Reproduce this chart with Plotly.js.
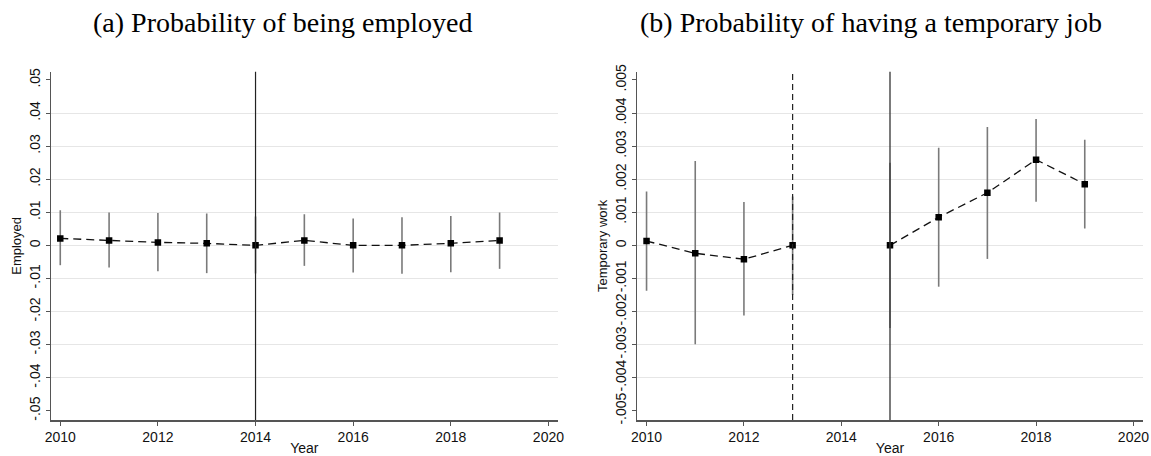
<!DOCTYPE html>
<html>
<head>
<meta charset="utf-8">
<script src="https://cdn.plot.ly/plotly-3.0.1.min.js"></script>
<style>html,body{margin:0;padding:0;background:#fff;}#chart{width:1151px;height:456px;}</style>
</head>
<body>
<div id="chart"></div>
<script>
// ---- Data ----
const yearsA = [2010, 2011, 2012, 2013, 2014, 2015, 2016, 2017, 2018, 2019];
const empCoef = [0.0021, 0.0015, 0.0009, 0.0006, 0.0000, 0.0015, 0.0000, 0.0000, 0.0006, 0.0015];
const empHi   = [0.0106, 0.0099, 0.0098, 0.0096, 0.0087, 0.0094, 0.0081, 0.0085, 0.0089, 0.0099];
const empLo   = [-0.0060, -0.0067, -0.0078, -0.0084, -0.0085, -0.0062, -0.0082, -0.0086, -0.0081, -0.0071];
const empRefSolid = [2014];

const yearsB = [2010, 2011, 2012, 2013, 2014, 2015, 2016, 2017, 2018, 2019];
const tempCoef = [0.00013, -0.00024, -0.00042, 0.00000, null, 0.00000, 0.00085, 0.00159, 0.00259, 0.00185];
const tempHi   = [0.00163, 0.00255, 0.00131, 0.00148, null, 0.00250, 0.00295, 0.00358, 0.00382, 0.00319];
const tempLo   = [-0.00137, -0.00299, -0.00212, -0.00150, null, -0.00250, -0.00125, -0.00041, 0.00132, 0.00051];
const tempRefDashed = [2013];
const tempRefSolid = [2015];

const xTickVals = [2010, 2012, 2014, 2016, 2018, 2020];
const empTickVals = [-0.05, -0.04, -0.03, -0.02, -0.01, 0, 0.01, 0.02, 0.03, 0.04, 0.05];
const empTickText = ['-.05', '-.04', '-.03', '-.02', '-.01', '0', '.01', '.02', '.03', '.04', '.05'];
const tempTickVals = [-0.005, -0.004, -0.003, -0.002, -0.001, 0, 0.001, 0.002, 0.003, 0.004, 0.005];
const tempTickText = ['-.005', '-.004', '-.003', '-.002', '-.001', '0', '.001', '.002', '.003', '.004', '.005'];

const titleA = '(a) Probability of being employed';
const titleB = '(b) Probability of having a temporary job';

// ---- Build ----
function errs(c, hi, lo) {
  return {
    plus: c.map((v, i) => v === null ? null : hi[i] - v),
    minus: c.map((v, i) => v === null ? null : v - lo[i])
  };
}
const eA = errs(empCoef, empHi, empLo);
const eB = errs(tempCoef, tempHi, tempLo);

const ciStyle = {color: '#7a7a7a', thickness: 1.6, width: 0};
const lineStyle = {color: '#111', width: 1.3, dash: '8px,5px'};
const markerStyle = {symbol: 'square', size: 6.5, color: '#000'};

const traces = [
  {x: yearsA, y: empCoef, xaxis: 'x', yaxis: 'y', type: 'scatter', mode: 'lines+markers',
   line: lineStyle, marker: markerStyle,
   error_y: Object.assign({type: 'data', symmetric: false, array: eA.plus, arrayminus: eA.minus}, ciStyle),
   showlegend: false, hoverinfo: 'x+y'},
  {x: yearsB, y: tempCoef, xaxis: 'x2', yaxis: 'y2', type: 'scatter', mode: 'lines+markers',
   connectgaps: false, line: lineStyle, marker: markerStyle,
   error_y: Object.assign({type: 'data', symmetric: false, array: eB.plus, arrayminus: eB.minus}, ciStyle),
   showlegend: false, hoverinfo: 'x+y'}
];

const shapes = [];
empRefSolid.forEach(x => shapes.push({type: 'line', xref: 'x', yref: 'y domain', x0: x, x1: x, y0: 0, y1: 1,
  line: {color: '#222', width: 1.2}, layer: 'above'}));
tempRefDashed.forEach(x => shapes.push({type: 'line', xref: 'x2', yref: 'y2 domain', x0: x, x1: x, y0: 0, y1: 1,
  line: {color: '#222', width: 1.2, dash: '6px,4px'}, layer: 'above'}));
tempRefSolid.forEach(x => shapes.push({type: 'line', xref: 'x2', yref: 'y2 domain', x0: x, x1: x, y0: 0, y1: 1,
  line: {color: '#333', width: 1.3}, layer: 'above'}));

const tickFont = {family: 'Liberation Sans, Arial, sans-serif', size: 14, color: '#111'};
const xTitleFont = {family: 'Liberation Sans, Arial, sans-serif', size: 14, color: '#111'};
const yTitleFont = {family: 'Liberation Sans, Arial, sans-serif', size: 13, color: '#111'};

function xAxis(domain, anchor) {
  return {
    domain: domain, anchor: anchor, range: [2009.81, 2020.19],
    tickmode: 'array', tickvals: xTickVals, ticks: 'outside', ticklen: 4, tickwidth: 1, tickcolor: '#555',
    showgrid: false, zeroline: false, showline: true, linecolor: '#555', linewidth: 1.5,
    tickfont: tickFont, title: {text: 'Year', font: xTitleFont, standoff: 0}, automargin: false
  };
}
function yAxis(domain, anchor, range, vals, text, title, gridvals) {
  return {
    domain: domain, anchor: anchor, range: range,
    tickmode: 'array', tickvals: vals, ticktext: text, tickangle: -90,
    ticks: 'outside', ticklen: 4, tickwidth: 1, tickcolor: '#555',
    showgrid: false, zeroline: false, showline: true, linecolor: '#555', linewidth: 1.5,
    minor: {tickmode: 'array', tickvals: gridvals, showgrid: true, gridcolor: '#e6e6e6', gridwidth: 1, ticks: ''},
    tickfont: tickFont, title: {text: title, font: yTitleFont, standoff: 2}, automargin: false
  };
}

const yDom = [36 / 456, (456 - 71.7) / 456];
const titleFont = {family: 'Liberation Serif, Times New Roman, serif', size: 28, color: '#000'};
const layout = {
  width: 1151, height: 456,
  margin: {l: 0, r: 0, t: 0, b: 0},
  paper_bgcolor: '#fff', plot_bgcolor: '#fff',
  showlegend: false,
  xaxis: xAxis([51 / 1151, 557.7 / 1151], 'y'),
  yaxis: yAxis(yDom, 'x', [-0.0528, 0.0525], empTickVals, empTickText, 'Employed', empTickVals.slice(1, -1)),
  xaxis2: xAxis([637.3 / 1151, 1142.7 / 1151], 'y2'),
  yaxis2: yAxis(yDom, 'x2', [-0.00528, 0.00525], tempTickVals, tempTickText, 'Temporary work', tempTickVals.slice(1, -1)),
  shapes: shapes,
  annotations: [
    {text: titleA, xref: 'paper', yref: 'paper', x: 282 / 1151, y: 1 - 22 / 456, xanchor: 'center', yanchor: 'middle',
     showarrow: false, font: titleFont},
    {text: titleB, xref: 'paper', yref: 'paper', x: 871 / 1151, y: 1 - 22 / 456, xanchor: 'center', yanchor: 'middle',
     showarrow: false, font: titleFont}
  ]
};

Plotly.newPlot('chart', traces, layout, {staticPlot: true, displayModeBar: false});
</script>
</body>
</html>
